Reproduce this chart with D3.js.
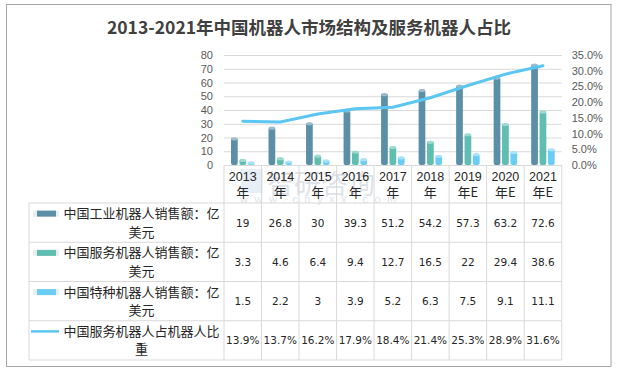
<!DOCTYPE html>
<html>
<head>
<meta charset="utf-8">
<script src="https://cdn.jsdelivr.net/npm/d3@7"></script>
<style>
  body { margin: 0; background: #fff; }
  svg text { font-family: "Liberation Sans", "Noto Sans CJK SC", sans-serif; }
  .cjk { font-family: "Noto Sans CJK SC", sans-serif; }
  .num { font-family: "DejaVu Sans", sans-serif; }
</style>
</head>
<body>
<svg id="chart" width="618" height="372"></svg>
<script>
'use strict';

const title = '2013-2021年中国机器人市场结构及服务机器人占比';
const years = ['2013', '2014', '2015', '2016', '2017', '2018', '2019', '2020', '2021'];
const yearSuffix = ['年', '年', '年', '年', '年', '年', '年E', '年E', '年E'];

const industrial = [19, 26.8, 30, 39.3, 51.2, 54.2, 57.3, 63.2, 72.6];
const service = [3.3, 4.6, 6.4, 9.4, 12.7, 16.5, 22, 29.4, 38.6];
const special = [1.5, 2.2, 3, 3.9, 5.2, 6.3, 7.5, 9.1, 11.1];
const share = [13.9, 13.7, 16.2, 17.9, 18.4, 21.4, 25.3, 28.9, 31.6];

const seriesLabels = [
  ['中国工业机器人销售额：亿', '美元'],
  ['中国服务机器人销售额：亿', '美元'],
  ['中国特种机器人销售额：亿', '美元'],
  ['中国服务机器人占机器人比', '重']
];
const leftTicks = [0, 10, 20, 30, 40, 50, 60, 70, 80];
const rightTicks = [0, 5, 10, 15, 20, 25, 30, 35];

const colors = ['#5b8fa7', '#5fbdb1', '#6ccdf4', '#5bc6f1'];
const tops = ['#9bbccc', '#9ddad2', '#a9e3f9'];

const svg = d3.select('#chart');

const plot = { left: 224, right: 561.7, top: 55, bottom: 165 };
const table = { left: 29, top: 203, bottom: 360 };

// frame
svg.append('rect')
  .attr('x', 6.5).attr('y', 4.5)
  .attr('width', 604.5).attr('height', 362)
  .attr('fill', '#fff')
  .attr('stroke', '#a6a6a6');

svg.append('text')
  .attr('class', 'cjk')
  .attr('x', 309).attr('y', 34)
  .attr('text-anchor', 'middle')
  .attr('font-size', 17.5)
  .attr('font-weight', 'bold')
  .attr('fill', '#404040')
  .text(title);

const x = d3.scaleBand().domain(years).range([plot.left, plot.right]);
const y = d3.scaleLinear().domain([0, 80]).range([plot.bottom, plot.top]);
const y2 = d3.scaleLinear().domain([0, 35]).range([plot.bottom, plot.top]);

const sub = d3.scaleBand()
  .domain([0, 1, 2])
  .range([7, x.bandwidth() - 7])
  .paddingInner(0.2);

// grid
svg.append('g')
  .attr('transform', `translate(${plot.left},0)`)
  .call(d3.axisLeft(y).tickValues(leftTicks).tickSize(-(plot.right - plot.left)).tickFormat(''))
  .call(g => g.select('.domain').remove())
  .call(g => g.selectAll('line').attr('stroke', '#d9d9d9'));

// left axis
svg.append('g')
  .attr('transform', `translate(${plot.left},0)`)
  .call(d3.axisLeft(y).tickValues(leftTicks).tickSize(0).tickPadding(11))
  .call(g => g.select('.domain').remove())
  .call(g => g.selectAll('text')
    .attr('font-family', '"Liberation Sans", sans-serif')
    .attr('font-size', 11).attr('fill', '#595959'));

// right axis
svg.append('g')
  .attr('transform', `translate(${plot.right},0)`)
  .call(d3.axisRight(y2).tickValues(rightTicks).tickSize(0).tickPadding(10)
    .tickFormat(d => d.toFixed(1) + '%'))
  .call(g => g.select('.domain').remove())
  .call(g => g.selectAll('text')
    .attr('font-family', '"Liberation Sans", sans-serif')
    .attr('font-size', 11).attr('fill', '#595959'));

// watermark
const wm = svg.append('g').attr('opacity', 0.28).attr('fill', '#8a9bb0');
wm.append('rect').attr('x', 241).attr('y', 169).attr('width', 22).attr('height', 24).attr('fill', '#a9c4e0');
wm.append('text').attr('class', 'cjk').attr('x', 267).attr('y', 194)
  .attr('font-size', 27).text('智研咨询');
wm.append('text').attr('x', 240).attr('y', 203)
  .attr('font-size', 11).attr('letter-spacing', 6.5).text('www.chyxx.com');

// bars
const barSeries = [industrial, service, special];
const bw = sub.bandwidth();
barSeries.forEach((values, i) => {
  const g = svg.append('g');
  g.selectAll('rect')
    .data(values)
    .enter().append('rect')
    .attr('x', (d, j) => x(years[j]) + sub(i))
    .attr('y', d => y(d) - 1)
    .attr('width', bw)
    .attr('height', d => y(0) - y(d) + 1)
    .attr('rx', 2)
    .attr('fill', colors[i]);
  g.selectAll('ellipse')
    .data(values)
    .enter().append('ellipse')
    .attr('cx', (d, j) => x(years[j]) + sub(i) + bw / 2)
    .attr('cy', d => y(d))
    .attr('rx', bw / 2)
    .attr('ry', 1.6)
    .attr('fill', tops[i]);
});

// share line
const line = d3.line()
  .x((d, j) => x(years[j]) + x.bandwidth() / 2)
  .y(d => y2(d));

svg.append('path')
  .datum(share)
  .attr('d', line)
  .attr('fill', 'none')
  .attr('stroke', colors[3])
  .attr('stroke-width', 3)
  .attr('stroke-linecap', 'round');

// data table
const rows = d3.scaleBand().domain([0, 1, 2, 3]).range([table.top, table.bottom]);
const grid = svg.append('g').attr('stroke', '#d9d9d9').attr('stroke-width', 1);

[table.top, ...[0, 1, 2, 3].map(r => rows(r) + rows.bandwidth())].forEach(yy => {
  grid.append('line')
    .attr('x1', table.left).attr('x2', plot.right)
    .attr('y1', yy).attr('y2', yy);
});

grid.append('line')
  .attr('x1', table.left).attr('x2', table.left)
  .attr('y1', table.top).attr('y2', table.bottom);

[...years.map(d => x(d)), plot.right].forEach(xx => {
  grid.append('line')
    .attr('x1', xx).attr('x2', xx)
    .attr('y1', plot.bottom).attr('y2', table.bottom);
});

// category header
const head = svg.append('g').attr('fill', '#262626');
head.selectAll('text.yr')
  .data(years)
  .enter().append('text')
  .attr('class', 'yr')
  .attr('x', d => x(d) + x.bandwidth() / 2)
  .attr('y', 181)
  .attr('text-anchor', 'middle')
  .attr('font-size', 12.5)
  .text(d => d);
head.selectAll('text.sf')
  .data(yearSuffix)
  .enter().append('text')
  .attr('class', 'sf cjk')
  .attr('x', (d, j) => x(years[j]) + x.bandwidth() / 2)
  .attr('y', 197)
  .attr('text-anchor', 'middle')
  .attr('font-size', 13)
  .text(d => d);

// legend keys and labels
seriesLabels.forEach((lines, r) => {
  const cy = rows(r) + rows.bandwidth() / 2;
  const y1 = cy - 9;
  if (r < 3) {
    svg.append('rect')
      .attr('x', 33).attr('y', y1 - 3)
      .attr('width', 26).attr('height', 6)
      .attr('fill', '#ececec');
    svg.append('rect')
      .attr('x', 37).attr('y', y1 - 3)
      .attr('width', 19).attr('height', 6)
      .attr('fill', colors[r]);
  } else {
    svg.append('line')
      .attr('x1', 31).attr('x2', 59)
      .attr('y1', y1).attr('y2', y1)
      .attr('stroke', colors[3])
      .attr('stroke-width', 2.5);
  }
  svg.append('text')
    .attr('class', 'cjk')
    .attr('x', 141.5)
    .attr('text-anchor', 'middle')
    .attr('font-size', 13)
    .attr('fill', '#262626')
    .selectAll('tspan')
    .data(lines)
    .enter().append('tspan')
    .attr('x', 141.5)
    .attr('y', (d, k) => y1 + 4.5 + k * 18.5)
    .text(d => d);
});

// values
const tableData = [industrial, service, special, share.map(d => d.toFixed(1) + '%')];
tableData.forEach((values, r) => {
  svg.append('g')
    .selectAll('text')
    .data(values)
    .enter().append('text')
    .attr('class', 'num')
    .attr('x', (d, j) => x(years[j]) + x.bandwidth() / 2)
    .attr('y', rows(r) + rows.bandwidth() / 2 + 4)
    .attr('text-anchor', 'middle')
    .attr('font-size', 10.5)
    .attr('fill', '#262626')
    .text(d => d);
});
</script>
</body>
</html>
